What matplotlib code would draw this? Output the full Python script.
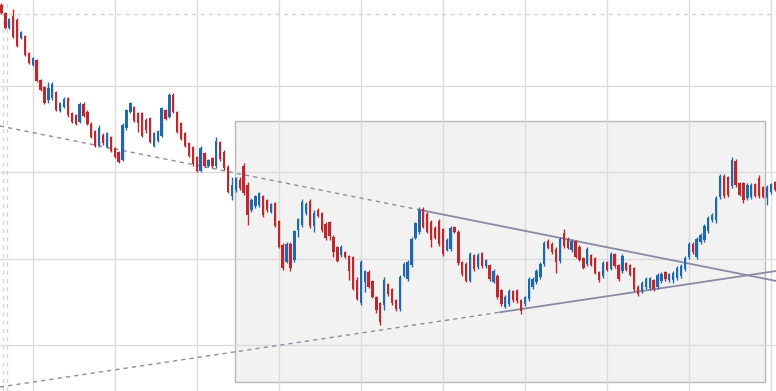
import numpy as np
import matplotlib
matplotlib.use("Agg")
import matplotlib.pyplot as plt
from matplotlib.patches import Rectangle

# OHLC (arbitrary price units, one value per candle)
opens = [395, 387, 372, 384, 380, 362, 364, 347, 335, 340, 320, 313, 300, 302, 308, 289, 293, 302, 287, 285,
         278, 296, 288, 276, 269, 255, 265, 253, 263, 252, 248, 240, 272, 288, 293, 287, 287, 280, 282, 254,
         259, 264, 290, 283, 305, 288, 277, 267, 257, 253, 243, 229, 247, 234, 242, 234, 258, 248, 233, 204,
         210, 220, 234, 215, 190, 194, 195, 204, 200, 188, 197, 179, 155, 138, 156, 140, 170, 175, 187, 199,
         174, 190, 187, 176, 178, 163, 153, 145, 148, 144, 143, 120, 97, 118, 128, 119, 103, 97, 95, 116,
         111, 100, 91, 124, 121, 135, 162, 168, 191, 186, 178, 172, 179, 171, 150, 151, 173, 168, 138, 136,
         119, 145, 133, 147, 134, 135, 118, 124, 110, 93, 96, 109, 110, 100, 96, 101, 113, 118, 123, 136,
         159, 156, 151, 139, 167, 161, 150, 159, 153, 142, 136, 145, 142, 128, 124, 138, 131, 146, 135, 129,
         137, 135, 132, 113, 109, 113, 112, 120, 113, 119, 128, 120, 120, 122, 124, 131, 143, 156, 143, 158,
         160, 169, 180, 180, 203, 224, 223, 214, 239, 217, 217, 202, 203, 216, 222, 213, 202, 208, 218]
closes = [387, 372, 381, 363, 354, 368, 345, 337, 342, 319, 310, 297, 312, 316, 290, 297, 301, 285, 278, 276,
          296, 284, 276, 263, 254, 272, 257, 267, 249, 243, 238, 275, 290, 297, 279, 277, 264, 270, 258, 267,
          269, 292, 281, 305, 288, 268, 261, 254, 244, 236, 229, 252, 234, 240, 234, 259, 241, 232, 208, 215,
          222, 212, 207, 185, 200, 204, 207, 185, 190, 196, 174, 153, 132, 156, 132, 169, 181, 198, 196, 174,
          187, 184, 170, 162, 164, 148, 139, 153, 143, 129, 111, 101, 138, 129, 113, 103, 90, 78, 120, 106,
          97, 91, 123, 136, 138, 161, 177, 190, 173, 168, 160, 162, 156, 146, 160, 172, 168, 137, 126, 119,
          146, 131, 145, 134, 140, 121, 129, 103, 96, 103, 109, 100, 99, 89, 103, 121, 121, 129, 136, 157,
          152, 148, 138, 161, 154, 152, 159, 143, 140, 132, 151, 135, 127, 120, 137, 130, 146, 134, 121, 144,
          130, 125, 111, 106, 117, 121, 122, 111, 125, 126, 121, 126, 127, 132, 134, 142, 156, 148, 161, 165,
          174, 182, 185, 202, 224, 204, 205, 240, 215, 205, 200, 215, 215, 204, 204, 203, 213, 216, 210]
highs = [397, 388, 382, 391, 382, 369, 365, 348, 343, 341, 321, 314, 318, 318, 309, 298, 303, 303, 288, 286,
         298, 298, 290, 278, 270, 275, 267, 268, 264, 253, 249, 277, 291, 298, 294, 288, 288, 282, 283, 268,
         270, 293, 291, 307, 307, 289, 278, 268, 258, 254, 244, 254, 248, 241, 243, 263, 259, 250, 235, 223,
         223, 223, 237, 218, 202, 205, 208, 205, 201, 197, 198, 180, 157, 158, 158, 170, 182, 201, 198, 201,
         190, 192, 188, 178, 179, 165, 154, 155, 149, 145, 144, 123, 140, 130, 130, 120, 104, 98, 123, 117,
         112, 101, 125, 138, 140, 163, 178, 193, 193, 188, 180, 174, 181, 172, 162, 174, 174, 170, 139, 138,
         148, 146, 147, 148, 141, 136, 131, 126, 111, 105, 111, 110, 111, 101, 104, 123, 123, 131, 138, 159,
         161, 158, 153, 163, 171, 163, 161, 160, 155, 143, 153, 146, 143, 129, 139, 139, 148, 147, 136, 146,
         138, 136, 133, 115, 119, 123, 123, 121, 127, 128, 129, 127, 129, 134, 136, 144, 158, 158, 163, 167,
         176, 184, 187, 204, 226, 226, 224, 243, 241, 218, 218, 217, 217, 217, 225, 214, 215, 217, 219]
lows = [386, 371, 371, 362, 353, 361, 344, 336, 334, 318, 309, 296, 297, 300, 289, 288, 292, 283, 277, 275,
        277, 283, 275, 262, 253, 253, 255, 252, 248, 242, 237, 239, 270, 287, 278, 268, 263, 267, 257, 253,
        258, 263, 280, 282, 287, 267, 260, 253, 243, 234, 228, 228, 233, 233, 232, 232, 239, 230, 207, 200,
        208, 210, 205, 175, 188, 192, 193, 183, 188, 187, 173, 152, 130, 137, 129, 138, 163, 173, 185, 172,
        168, 183, 168, 160, 160, 143, 138, 143, 142, 120, 110, 100, 95, 108, 112, 102, 87, 75, 90, 104,
        95, 89, 89, 123, 119, 133, 161, 166, 172, 167, 153, 161, 154, 144, 149, 149, 167, 135, 124, 118,
        118, 129, 131, 132, 132, 119, 117, 101, 94, 92, 94, 98, 97, 86, 94, 99, 111, 116, 121, 134,
        151, 146, 127, 137, 152, 151, 148, 142, 139, 131, 134, 134, 126, 118, 122, 129, 130, 132, 119, 127,
        129, 124, 109, 104, 107, 111, 110, 109, 111, 117, 119, 118, 117, 120, 122, 129, 141, 146, 141, 156,
        158, 167, 178, 177, 201, 202, 203, 212, 213, 204, 197, 200, 201, 203, 202, 202, 195, 206, 209]

# trendlines: (candle index, price) anchors - dashed before the middle anchor, solid after
upper_trend = [(-0.4, 274), (107, 190.2), (198.4, 119)]
lower_trend = [(-0.4, 13), (127.7, 87.8), (198.4, 129)]

o = np.array(opens, float)
c = np.array(closes, float)
h = np.array(highs, float)
l = np.array(lows, float)
x = np.arange(len(o))

RED = "#c0272d"
BLUE = "#1f68ad"
colors = np.where(c < o, RED, BLUE)

fig = plt.figure(figsize=(7.76, 3.91), dpi=100)
ax = fig.add_axes([0, 0, 1, 1])
ax.set_xlim(-0.384, 198.33)
ax.set_ylim(9, 400)
ax.axis("off")

# shaded zone
ax.add_patch(Rectangle((59.8, 18), 135.7, 261, facecolor="#f2f2f2",
                       edgecolor="#b8b8b8", lw=1.0, zorder=0.5))

# grid
for gx in np.arange(8, 199, 21):
    ax.axvline(gx, color="#dcdcdc", lw=1.0, zorder=1)
for gy in [314, 227.7, 141.4, 55]:
    ax.axhline(gy, color="#dcdcdc", lw=1.0, zorder=1)
ax.axhline(386, color="#d4d4d4", lw=1.0, ls=(0, (3, 3)), zorder=1)
for gx in [0.46, 1.33]:
    ax.axvline(gx, color="#d4d4d4", lw=1.0, ls=(0, (3, 3)), zorder=1)

# trendlines
for pts in (upper_trend, lower_trend):
    (x0, y0), (x1, y1), (x2, y2) = pts
    ax.plot([x0, x1], [y0, y1], color="#8c8ca4", lw=1.0, ls=(0, (3, 3)), zorder=2)
    ax.plot([x1, x2], [y1, y2], color="#8a8aa6", lw=1.3, zorder=2)

# candles
ax.vlines(x, l, h, colors=colors, lw=1.0, zorder=3)
body = np.where(np.abs(c - o) < 1.5, 1.5, np.abs(c - o))
ax.bar(x, body, bottom=np.minimum(o, c), width=0.6, color=colors, lw=0, zorder=3)

fig.savefig("out.png", dpi=100)
